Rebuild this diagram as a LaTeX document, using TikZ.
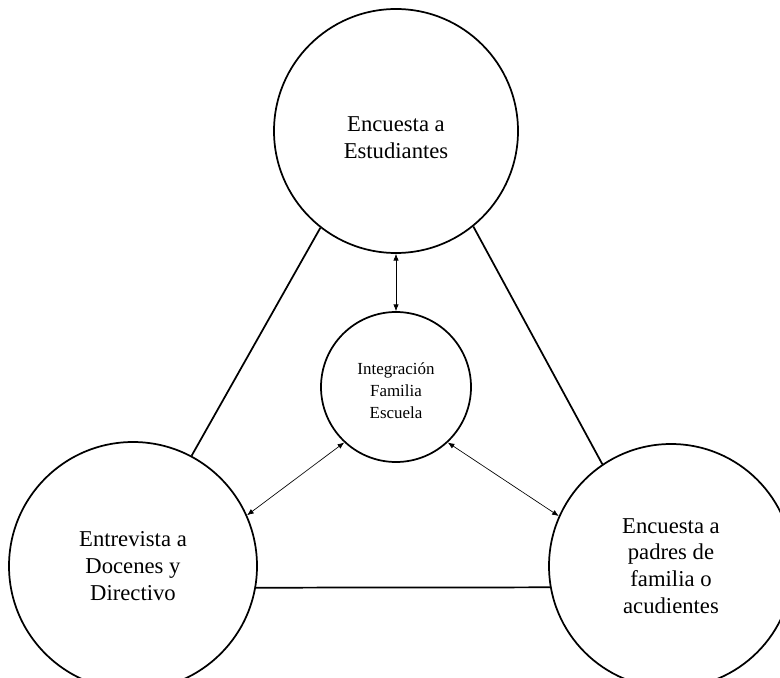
\documentclass[tikz,border=0pt]{standalone}
\usepackage{fontspec}
\setmainfont{Liberation Serif}
\usetikzlibrary{arrows.meta}

\begin{document}
\begin{tikzpicture}[x=0.75pt,y=0.75pt,yscale=-1,xscale=1,
  bigcirc/.style={circle, draw, line width=1.3pt, align=center, inner sep=0pt, font=\fontsize{17}{20}\selectfont},
  link/.style={line width=1.3pt},
  dbl/.style={line width=0.5pt, {Latex[length=5pt,width=4pt]}-{Latex[length=5pt,width=4pt]}}]
%set diagram left start at 0, and has height of 677
\clip (0,0) rectangle (780,677);

%Shape: Circle
\node [bigcirc, minimum size=183pt] (estud) at (396,131) {\rule{0pt}{21pt}Encuesta a\\Estudiantes};
%Shape: Circle
\node [bigcirc, minimum size=186pt] (docen) at (133,566) {Entrevista a\\Docenes y\\Directivo};
%Shape: Circle
\node [bigcirc, minimum size=183pt] (padres) at (671,566) {Encuesta a\\padres de\\familia o\\acudientes};
%Shape: Circle
\node [bigcirc, minimum size=112.5pt, font=\fontsize{12.7}{16.5}\selectfont] (integ) at (396,387) {\rule{0pt}{15pt}Integración\\Familia\\Escuela};

%Straight Lines
\draw [link] (estud.232) -- (docen.62) ;
%Straight Lines
\draw [link] (estud.309) -- (padres.124) ;
%Straight Lines
\draw [link] (docen.350) -- (padres.190) ;

%Straight Lines
\draw [dbl] (estud.south) -- (integ.north) ;
%Straight Lines
\draw [dbl] (integ.227) -- (docen.24) ;
%Straight Lines
\draw [dbl] (integ.313) -- (padres.156) ;

\end{tikzpicture}
\end{document}
